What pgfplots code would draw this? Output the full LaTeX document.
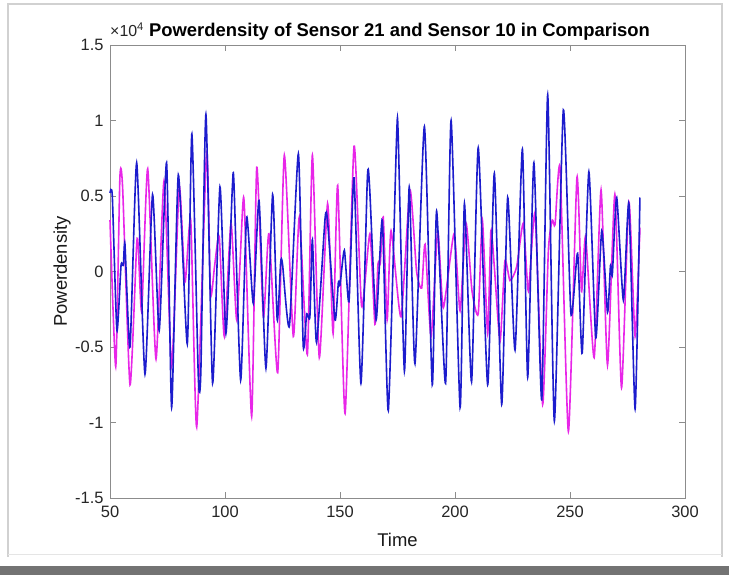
\documentclass[border=0pt]{standalone}
\usepackage{pgfplots}
\pgfplotsset{compat=1.18}
\usepackage{fontspec}
\setmainfont{Liberation Sans}
\definecolor{mblue}{RGB}{28,28,205}
\definecolor{mmag}{RGB}{232,38,232}
\begin{document}
\begin{tikzpicture}[x=1bp,y=1bp]
\useasboundingbox (0,0) rectangle (729,575);
\fill[white] (0,0) rectangle (729,575);
\draw[black!18, line width=1.2bp] (8,18) -- (8,571) -- (722,571) -- (722,18);
\draw[black!10, line width=1bp] (8,20) -- (722,20);
\fill[black!55] (0,0) rectangle (729,9);
\begin{axis}[
  at={(110bp,77bp)}, anchor=south west,
  scale only axis, width=575bp, height=453bp,
  xmin=50, xmax=300, ymin=-1.5, ymax=1.5,
  xtick={50,100,150,200,250,300},
  xticklabels={50,100,150,200,250,300},
  ytick={-1.5,-1,-0.5,0,0.5,1,1.5},
  yticklabels={-1.5,-1,-0.5,0,0.5,1,1.5},
  tick label style={font=\fontsize{16.5}{16.5}\selectfont, text=black!85},
  xticklabel style={yshift=-5bp},
  yticklabel style={xshift=-3bp},
  axis line style={black!45},
  tick style={black!45},
  major tick length=6bp,
  tick align=inside,
  xlabel={Time}, ylabel={Powerdensity},
  label style={font=\fontsize{18.5}{18.5}\selectfont, text=black!90},
  xlabel style={at={(axis description cs:0.5,-0.0927)}, anchor=center},
  ylabel style={at={(axis description cs:-0.0835,0.5)}, anchor=center},
  clip=false,
]
\addplot[mmag, line width=1.6bp, smooth, tension=0.35] coordinates {
(50,0.34)(52.5,-0.63)(54.3,0.62)(55.5,0.55)(58.7,-0.75)(61.6,0.18)(62.3,0.16)
(63.8,-0.26)(66.4,0.68)(70,-0.58)(73.5,0.60)(76.8,-0.63)(80.1,0.56)(82.6,-0.07)
(85.1,0.34)(87.7,-1.03)(92.0,0.79)(93.7,-0.15)(95.5,0.04)(97.5,0.23)(99.7,-0.43)
(102.6,0.32)(105.1,-0.32)(107.7,0.43)(108.5,0.40)(111.6,-0.96)(113.8,0.69)
(116.7,-0.30)(119.1,0.25)(122.9,-0.67)(125.8,0.77)(129.7,-0.43)(132.3,0.36)
(135.8,-0.55)(138,0.77)(141,-0.57)(144.6,0.45)(147,-0.41)(149,0.57)(152.2,-0.94)
(156.1,0.83)(159.4,-0.23)(163,0.25)(165.2,-0.35)(166.5,0.05)(167.5,0.05)
(168.8,0.36)(170.5,-0.32)(172.2,0.27)(176.5,-0.30)(180.4,0.54)(183.3,0.0)
(185.5,-0.11)(187,0.18)(189.6,-0.43)(192.5,0.27)(194.9,-0.24)(199.6,0.25)
(202.2,-0.26)(204.8,0.32)(207.4,-0.13)(210.1,-0.28)(211.9,0.34)(214.2,-0.41)
(215.6,0.27)(217.1,0.03)(219.6,-0.46)(221.7,0.07)(223.9,-0.06)(226.8,0.03)
(229.7,0.32)(231.9,-0.13)(234.8,0.38)(238.1,-0.88)(240.6,0.14)(242.3,0.34)
(243.5,0.31)(245.7,0.68)(249.3,-1.06)(253,0.62)(255,-0.13)(256.8,0.23)
(260.5,-0.57)(263.5,0.54)(266.3,-0.62)(269.5,0.51)(272.4,-0.77)(275.6,0.46)
(278.3,-0.43)(280.4,0.29)
};
\addplot[mblue, line width=1.6bp, smooth, tension=0.35] coordinates {
(50,0.52)(51,0.50)(53,-0.39)(54.8,0.04)(55.8,0.04)(56.5,0.18)(58.7,-0.50)
(61.6,0.72)(65.2,-0.68)(68.5,0.51)(71.4,-0.39)(74.6,0.72)(76.8,-0.90)(79.7,0.64)
(83.6,-0.48)(85.6,0.91)(88.4,-0.70)(89.5,-0.66)(91.7,1.04)(94.6,-0.74)(97.8,0.56)
(100.4,-0.41)(103.2,0.56)(103.9,0.58)(106.8,-0.72)(109.4,0.36)(112.3,-0.21)
(114.8,0.47)(117.8,-0.64)(120.7,0.51)(122.7,-0.32)(124.2,0.06)(125,0.05)
(128.0,-0.36)(131.9,0.78)(134,-0.49)(135.5,-0.28)(136.9,-0.30)(138,0.21)
(139.8,-0.47)(143.5,0.35)(144.6,0.33)(147.8,-0.32)(149.3,-0.07)(150.0,-0.09)
(151.9,0.14)(153.9,-0.20)(156.1,0.62)(159.1,-0.74)(161.9,0.62)(162.9,0.55)
(165.7,-0.32)(168.4,0.34)(171,-0.92)(174.6,0.89)(175.3,0.90)(178,-0.66)
(180.1,0.56)(182.6,-0.61)(186.7,0.96)(190.1,-0.75)(192,0.40)(195.9,-0.74)
(198.3,1.0)(202.2,-0.90)(204.1,0.45)(207.2,-0.73)(210.1,0.82)(214.2,-0.75)
(217.1,0.65)(220.3,-0.88)(222.9,0.49)(226.1,-0.52)(229.3,0.81)(231.6,-0.70)
(234.3,0.72)(237.7,-0.85)(240.3,1.17)(243.2,-0.99)(247.1,1.07)(250.4,-0.28)
(253.3,0.12)(255.3,-0.54)(258.2,0.66)(261.2,-0.44)(263.8,0.27)(266.3,-0.27)
(267.6,0.04)(268.4,-0.02)(270.3,0.49)(273.2,-0.19)(275.6,0.45)(278.3,-0.91)
(280.4,0.49)
};
\node[anchor=base west, font=\fontsize{16}{16}\selectfont, text=black!85, inner sep=0pt]
  at (rel axis cs:0,1) [yshift=8bp] {×10\textsuperscript{4}};
\node[anchor=base, font=\bfseries\fontsize{18.5}{18.5}\selectfont, text=black, inner sep=0pt]
  at (rel axis cs:0.5,1) [yshift=8bp, xshift=2bp] {Powerdensity of Sensor 21 and Sensor 10 in Comparison};
\end{axis}
\end{tikzpicture}
\end{document}
